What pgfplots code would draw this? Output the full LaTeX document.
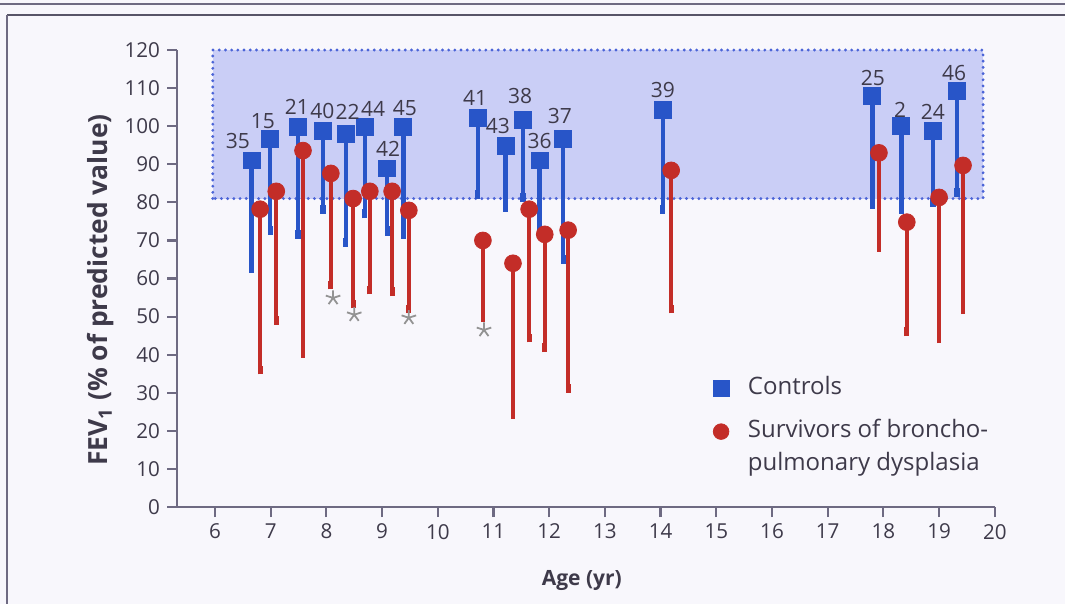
\documentclass[border=0pt]{standalone}
\usepackage{fontspec}
\setmainfont{Open Sans}
\usepackage{pgfplots}
\pgfplotsset{compat=1.18}
\usepackage{pgfplotstable}

\definecolor{ctrl}{RGB}{40,85,200}
\definecolor{bpd}{RGB}{195,45,40}
\definecolor{band}{RGB}{202,206,246}
\definecolor{bandedge}{RGB}{75,100,215}
\definecolor{axisgray}{RGB}{110,106,130}
\definecolor{txt}{RGB}{62,58,74}
\definecolor{paper}{RGB}{248,247,252}

\pgfplotsset{
  tall legend/.style={legend image code/.code={%
    \draw[##1] plot coordinates {(0.2cm,0cm)}; \path (0cm,-11pt);}},
  short legend/.style={legend image code/.code={%
    \draw[##1] plot coordinates {(0.2cm,0cm)};}},
}

% controls: mean and lower end of range
\pgfplotstableread{
x     y      low
6.66  91.0   62.7
6.99  96.7   72.7
7.49  99.9   71.6
7.94  98.8   78.2
8.35  98.0   69.5
8.69  99.9   77.0
9.09  88.9   72.5
9.38  99.9   71.6
10.72 102.2  82.0
11.22 94.9   78.7
11.53 101.7  81.3
11.83 91.0   72.9
12.25 96.7   65.1
14.04 104.3  78.2
17.80 108.0  79.5
18.32 100.1  78.2
18.89 98.8   80.0
19.32 109.3  82.6
}\ctrldata

% survivors of BPD
\pgfplotstableread{
x     y     low
6.81  78.2  36.0
7.10  82.9  49.0
7.58  93.6  40.3
8.08  87.6  58.3
8.48  81.0  53.3
8.78  82.9  57.0
9.18  82.9  56.5
9.48  77.9  52.0
10.81 70.0  49.7
11.35 64.0  24.3
11.64 78.2  44.4
11.92 71.6  41.8
12.34 72.7  31.1
14.19 88.4  52.0
17.92 93.0  68.2
18.42 74.8  46.0
19.00 81.3  44.2
19.43 89.7  51.8
}\bpddata

% study numbers above the control squares
\pgfplotstableread{
x     y      lab
6.41  96.2   35
6.86  101.4  15
7.47  105.1  21
7.93  104.1  40
8.38  103.8  22
8.84  104.6  44
9.11  94.1   42
9.41  104.8  45
10.67 107.5  41
11.08 100.1  43
11.48 108.0  38
11.83 96.2   36
12.19 102.7  37
14.04 109.5  39
17.81 112.7  25
18.30 104.3  2
18.89 103.8  24
19.27 114.0  46
}\labdata

\pgfplotstableread{
x     y
8.12  54.9
8.50  50.5
9.48  49.7
10.83 46.5
}\stardata

\begin{document}
\begin{tikzpicture}
\fill[paper] (0,0) rectangle (532.5pt,-302pt);
\path[use as bounding box] (0,0) rectangle (532.5pt,-302pt);
\draw[axisgray, line width=1.4pt] (0,-2pt) -- (532.5pt,-2pt);
\draw[axisgray!80!black, line width=1pt] (3.5pt,-7.75pt) -- (532.5pt,-7.75pt);
\draw[axisgray, line width=1.4pt] (3.5pt,-7.75pt) -- (3.5pt,-302pt);

\begin{axis}[
  at={(88.5pt,-253.5pt)}, anchor=south west,
  x=27.85pt, y=1.904pt,
  xmin=5.318, xmax=20, ymin=0, ymax=120,
  clip=false,
  axis lines*=left,
  axis line style={axisgray, line width=1.1pt},
  tick style={axisgray, line width=1.1pt},
  tick align=outside,
  major tick length=5pt,
  xtick={6,7,...,20},
  ytick={0,10,...,120},
  /pgf/number format/assume math mode=true,
  ticklabel style={font=\fontsize{10.3}{12}\selectfont, text=txt},
  xlabel={Age (yr)},
  ylabel={FEV\textsubscript{1} (\% of predicted value)},
  xlabel style={at={(axis description cs:0.495,-0.16)}, anchor=center,
    font=\fontsize{10.5}{12}\selectfont\bfseries, text=txt},
  ylabel style={at={(axis description cs:-0.094,0.475)}, anchor=center,
    font=\fontsize{13.2}{15}\selectfont\bfseries, text=txt},
  legend style={at={(axis cs:14.76,35.5)}, anchor=north west, draw=none, fill=none,
    font=\fontsize{12}{14}\selectfont, text=txt, row sep=4.5pt, column sep=9.5pt,
    nodes={inner sep=0pt, text height=9pt, text depth=3pt}},
  legend cell align=left,
  legend image post style={mark size=3.9pt},
]
\fill[band] (axis cs:5.96,81) rectangle (axis cs:19.79,120);
\draw[bandedge, line width=1.6pt, line cap=round, dash pattern=on 0pt off 3.1pt]
  (axis cs:5.96,81) rectangle (axis cs:19.79,120);

\addplot[only marks, mark=square*, mark size=4.2pt, color=ctrl, tall legend,
  error bars/.cd, y dir=minus, y explicit,
  error bar style={line width=2.3pt, color=ctrl},
  error mark=-, error mark options={line width=2.6pt, mark size=2.3pt, color=ctrl}]
  table[x=x, y=y, y error minus expr=\thisrow{y}-\thisrow{low}] {\ctrldata};
\addlegendentry{Controls}

\addplot[only marks, mark=*, mark size=4.2pt, color=bpd, short legend,
  error bars/.cd, y dir=minus, y explicit,
  error bar style={line width=2pt, color=bpd},
  error mark=-, error mark options={line width=2.4pt, mark size=2.2pt, color=bpd}]
  table[x=x, y=y, y error minus expr=\thisrow{y}-\thisrow{low}] {\bpddata};
\addlegendentry{Survivors of broncho-}

\addplot[only marks, mark=none, forget plot, nodes near coords,
  point meta=explicit symbolic,
  every node near coord/.style={anchor=center, inner sep=0pt,
    font=\fontsize{10.5}{12}\selectfont, text=txt}]
  table[x=x, y=y, meta=lab] {\labdata};

\addplot[only marks, mark=star, mark size=3.8pt, color=gray!85, line width=0.9pt, forget plot]
  table[x=x, y=y] {\stardata};

\addlegendimage{empty legend}
\addlegendentry{pulmonary dysplasia}
\end{axis}
\end{tikzpicture}
\end{document}
